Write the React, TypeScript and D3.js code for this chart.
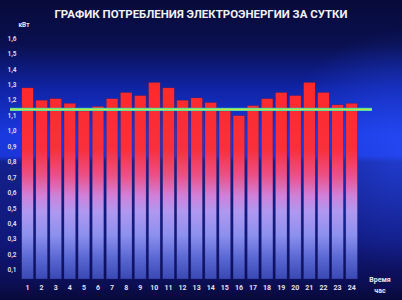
import React from "react";
import * as d3 from "d3";

const hours = Array.from({ length: 24 }, (_, i) => String(i + 1));
const consumption = [1.28, 1.2, 1.21, 1.18, 1.13, 1.16, 1.21, 1.25, 1.23, 1.315, 1.28, 1.2, 1.215, 1.185, 1.13, 1.1, 1.165, 1.21, 1.25, 1.23, 1.315, 1.25, 1.17, 1.18];
const average = 1.14;
const yTicks = [0.1, 0.2, 0.3, 0.4, 0.5, 0.6, 0.7, 0.8, 0.9, 1.0, 1.1, 1.2, 1.3, 1.4, 1.5, 1.6];
const title = "ГРАФИК ПОТРЕБЛЕНИЯ ЭЛЕКТРОЭНЕРГИИ ЗА СУТКИ";

const W = 402;
const H = 300;
const baseY = 279;

export default function App() {
  const x = d3.scaleBand<string>().domain(hours).range([20.5, 358.7]).paddingInner(0.17).paddingOuter(0.085);
  const y = d3.scaleLinear().domain([0, 1.6]).range([285.4, 38.4]);
  const fmt = (v: number) => v.toFixed(1).replace(".", ",");
  const font = "Roboto, 'DejaVu Sans', sans-serif";
  return (
    <svg width={W} height={H} style={{ position: "absolute", left: 0, top: 0, display: "block" }}>
      <defs>
        <linearGradient id="bg" x1="0" y1="0" x2="0" y2={H} gradientUnits="userSpaceOnUse">
          <stop offset="0" stopColor="#070a3a" />
          <stop offset="0.15" stopColor="#0a1050" />
          <stop offset="0.3" stopColor="#1024a8" />
          <stop offset="0.45" stopColor="#1a3ae0" />
          <stop offset="0.52" stopColor="#1a36d8" />
          <stop offset="0.54" stopColor="#14208c" />
          <stop offset="0.8" stopColor="#10187a" />
          <stop offset="0.94" stopColor="#0c0f55" />
          <stop offset="1" stopColor="#08093a" />
        </linearGradient>
        <radialGradient id="glow" cx="402" cy="150" r="120" gradientUnits="userSpaceOnUse">
          <stop offset="0" stopColor="#2a50ff" stopOpacity="0.6" />
          <stop offset="1" stopColor="#2a50ff" stopOpacity="0" />
        </radialGradient>
        <linearGradient id="bar" x1="0" y1="80" x2="0" y2={baseY} gradientUnits="userSpaceOnUse">
          <stop offset="0" stopColor="#ff2828" />
          <stop offset="0.35" stopColor="#f8303c" />
          <stop offset="0.48" stopColor="#ec5088" />
          <stop offset="0.58" stopColor="#d080d8" />
          <stop offset="0.66" stopColor="#b098f0" />
          <stop offset="0.78" stopColor="#8c90ee" />
          <stop offset="0.9" stopColor="#5866d2" />
          <stop offset="1" stopColor="#3a48b4" />
        </linearGradient>
        <linearGradient id="avg" x1="0" y1="0" x2="0" y2="1">
          <stop offset="0" stopColor="#20d8c8" />
          <stop offset="0.5" stopColor="#c8e840" />
          <stop offset="1" stopColor="#20d8c8" />
        </linearGradient>
      </defs>
      <rect x={0} y={0} width={W} height={H} fill="url(#bg)" />
      <rect x={0} y={0} width={W} height={H} fill="url(#glow)" />
      <text x={201} y={17.5} textAnchor="middle" fill="#f2f2f2" fontFamily={font} fontWeight="bold" fontSize={10} textLength={293} lengthAdjust="spacingAndGlyphs">{title}</text>
      <text x={24} y={27} textAnchor="middle" fill="#e8e8f0" fontFamily={font} fontWeight="bold" fontSize={6.5}>кВт</text>
      {yTicks.map((t) => (
        <text key={t} x={12} y={y(t) + 2.3} textAnchor="middle" fill="#d8d8e8" fontFamily={font} fontWeight="bold" fontSize={6.5}>{fmt(t)}</text>
      ))}
      {consumption.map((v, i) => (
        <rect key={i} x={x(hours[i])} y={y(v)} width={x.bandwidth()} height={baseY - y(v)} fill="url(#bar)" stroke="#1a1a6a" strokeWidth={0.5} strokeOpacity={0.6} />
      ))}
      <rect x={10} y={y(average) - 1.6} width={372 - 10} height={3.2} fill="url(#avg)" />
      {hours.map((h) => (
        <text key={h} x={(x(h) as number) + x.bandwidth() / 2} y={290} textAnchor="middle" fill="#e0e0ee" fontFamily={font} fontWeight="bold" fontSize={7}>{h}</text>
      ))}
      <text x={380} y={282} textAnchor="middle" fill="#e8e8f0" fontFamily={font} fontWeight="bold" fontSize={7}>Время</text>
      <text x={380} y={293} textAnchor="middle" fill="#e8e8f0" fontFamily={font} fontWeight="bold" fontSize={7}>час</text>
    </svg>
  );
}
